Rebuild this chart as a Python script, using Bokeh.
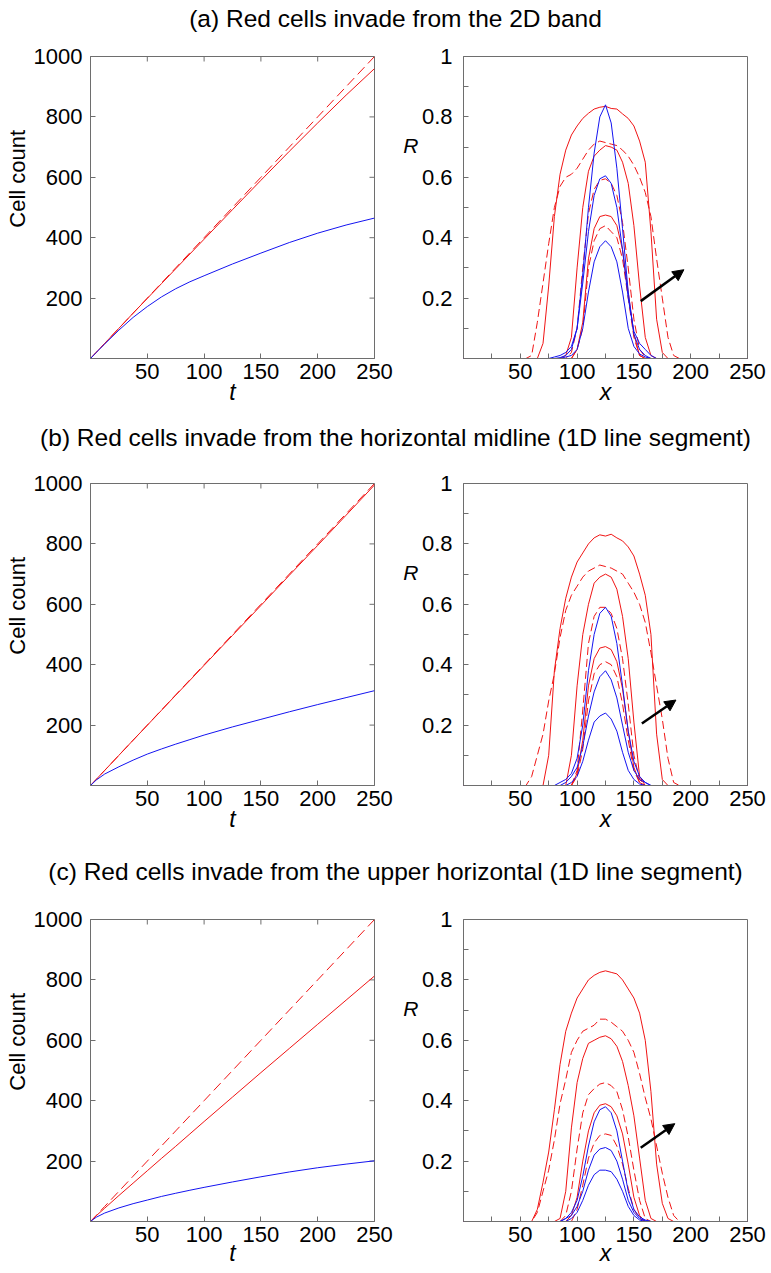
import math
from bokeh.plotting import figure
from bokeh.layouts import column, row
from bokeh.models import (Range1d, FixedTicker, LinearAxis, Arrow,
                          NormalHead, CustomJSTickFormatter)
from bokeh.embed import file_html
from bokeh.resources import INLINE
from bokeh.core.properties import value

FONT = "Liberation Sans"
RED = "#f01414"
BLUE = "#1414f0"
FRAME = "#6e6e6e"

TITLES = [
    "(a) Red cells invade from the 2D band",
    "(b) Red cells invade from the horizontal midline (1D line segment)",
    "(c) Red cells invade from the upper horizontal (1D line segment)",
]

# ---------------- left panels: cell count vs t ----------------
T = [0, 5, 12.5, 25, 37.5, 50, 62.5, 75, 87.5, 100, 125, 150, 175, 200, 225, 250]
T_TICKS = [50, 100, 150, 200, 250]
COUNT_TICKS = [200, 400, 600, 800, 1000]

a_red_dashed = [0, 20, 50, 100, 150, 200, 250, 300, 350, 400, 500, 600, 700, 800, 900, 1000]
a_red_solid = [0, 20, 50, 100, 150, 199, 248, 297, 346, 395, 493, 590, 686, 780, 872, 960]
a_blue = [0, 20, 48, 94, 136, 172, 204, 231, 254, 274, 313, 349, 384, 415, 442, 465]

b_red_dashed = [0, 20, 50, 100, 150, 200, 250, 300, 350, 400, 500, 600, 700, 800, 900, 1000]
b_red_solid = [0, 20, 50, 100, 150, 199.5, 249, 299, 348, 398, 497, 596, 696, 795, 895, 995]
b_blue = [0, 18, 38, 62, 84, 104, 121, 137, 152, 167, 194, 219, 244, 268, 291, 314]

c_red_dashed = [0, 20, 50, 100, 150, 200, 250, 300, 350, 400, 500, 600, 700, 800, 900, 1000]
c_red_solid = [0, 19, 44, 86, 127, 168, 209, 249, 290, 331, 412, 493, 573, 653, 733, 813]
c_blue = [0, 14, 28, 45, 59, 71, 83, 93.5, 103.5, 113, 131, 148, 164, 178, 190, 201]

# ---------------- right panels: R profiles vs x ----------------
X = [0, 55, 60, 65, 70, 75, 80, 85, 90, 95, 100, 105, 110, 115, 120, 125,
     130, 135, 140, 145, 150, 155, 160, 165, 170, 175, 180, 185, 190, 195, 250]
X_TICKS = [50, 100, 150, 200, 250]
X_MINOR = [25, 75, 125, 175, 225]
R_TICKS = [0.2, 0.4, 0.6, 0.8, 1.0]
R_MINOR = [0.1, 0.3, 0.5, 0.7, 0.9]

a_R_solid = [
    [0, 0, 0, 0, 0.05, 0.24, 0.47, 0.61, 0.69, 0.74, 0.77, 0.795, 0.812, 0.826, 0.832, 0.835,
     0.828, 0.826, 0.81, 0.795, 0.77, 0.72, 0.65, 0.42, 0.13, 0.02, 0, 0, 0, 0, 0],
    [0, 0, 0, 0, 0, 0, 0, 0, 0.01, 0.07, 0.30, 0.50, 0.62, 0.67, 0.69, 0.705,
     0.70, 0.69, 0.65, 0.58, 0.44, 0.24, 0.07, 0.01, 0, 0, 0, 0, 0, 0, 0],
    [0, 0, 0, 0, 0, 0, 0, 0, 0, 0, 0.03, 0.12, 0.33, 0.43, 0.47, 0.475,
     0.47, 0.44, 0.36, 0.22, 0.08, 0.01, 0, 0, 0, 0, 0, 0, 0, 0, 0],
]
a_R_dashed = [
    [0, 0, 0.01, 0.12, 0.25, 0.38, 0.50, 0.57, 0.60, 0.61, 0.63, 0.66, 0.69, 0.71, 0.72, 0.715,
     0.71, 0.705, 0.69, 0.67, 0.64, 0.60, 0.55, 0.47, 0.33, 0.20, 0.07, 0.01, 0, 0, 0],
    [0, 0, 0, 0, 0, 0, 0, 0, 0, 0.02, 0.10, 0.30, 0.48, 0.56, 0.59, 0.595,
     0.58, 0.54, 0.45, 0.30, 0.13, 0.03, 0.005, 0, 0, 0, 0, 0, 0, 0, 0],
    [0, 0, 0, 0, 0, 0, 0, 0, 0, 0, 0.03, 0.10, 0.30, 0.39, 0.43, 0.44,
     0.42, 0.40, 0.33, 0.20, 0.07, 0.01, 0, 0, 0, 0, 0, 0, 0, 0, 0],
]
a_R_blue = [
    [0, 0, 0, 0, 0, 0, 0, 0.003, 0.01, 0.03, 0.10, 0.28, 0.50, 0.68, 0.80, 0.84,
     0.78, 0.63, 0.43, 0.22, 0.08, 0.03, 0.01, 0, 0, 0, 0, 0, 0, 0, 0],
    [0, 0, 0, 0, 0, 0, 0.005, 0.01, 0.02, 0.04, 0.10, 0.25, 0.42, 0.54, 0.595, 0.605,
     0.58, 0.50, 0.36, 0.20, 0.09, 0.05, 0.03, 0.01, 0, 0, 0, 0, 0, 0, 0],
    [0, 0, 0, 0, 0, 0, 0, 0, 0.005, 0.01, 0.03, 0.10, 0.22, 0.32, 0.37, 0.39,
     0.37, 0.32, 0.22, 0.10, 0.04, 0.015, 0.005, 0, 0, 0, 0, 0, 0, 0, 0],
]

b_R_solid = [
    [0, 0, 0, 0, 0, 0.10, 0.38, 0.52, 0.62, 0.69, 0.74, 0.77, 0.80, 0.82, 0.83, 0.826,
     0.832, 0.82, 0.81, 0.79, 0.76, 0.70, 0.63, 0.50, 0.17, 0.02, 0, 0, 0, 0, 0],
    [0, 0, 0, 0, 0, 0, 0, 0, 0, 0.10, 0.33, 0.50, 0.60, 0.67, 0.69, 0.70,
     0.69, 0.65, 0.56, 0.42, 0.21, 0.03, 0, 0, 0, 0, 0, 0, 0, 0, 0],
    [0, 0, 0, 0, 0, 0, 0, 0, 0, 0, 0.04, 0.15, 0.33, 0.42, 0.455, 0.46,
     0.45, 0.41, 0.32, 0.18, 0.06, 0.01, 0, 0, 0, 0, 0, 0, 0, 0, 0],
]
b_R_dashed = [
    [0, 0, 0.03, 0.10, 0.17, 0.28, 0.37, 0.49, 0.58, 0.63, 0.66, 0.69, 0.71, 0.72, 0.73, 0.725,
     0.72, 0.71, 0.70, 0.67, 0.64, 0.60, 0.54, 0.44, 0.33, 0.22, 0.09, 0.01, 0, 0, 0],
    [0, 0, 0, 0, 0, 0, 0, 0, 0, 0, 0.05, 0.25, 0.47, 0.56, 0.59, 0.59,
     0.57, 0.52, 0.42, 0.27, 0.10, 0.02, 0, 0, 0, 0, 0, 0, 0, 0, 0],
    [0, 0, 0, 0, 0, 0, 0, 0, 0, 0, 0.03, 0.12, 0.28, 0.37, 0.40, 0.41,
     0.40, 0.36, 0.27, 0.15, 0.05, 0.01, 0, 0, 0, 0, 0, 0, 0, 0, 0],
]
b_R_blue = [
    [0, 0, 0, 0, 0, 0, 0, 0.01, 0.02, 0.04, 0.09, 0.20, 0.38, 0.50, 0.57, 0.59,
     0.56, 0.47, 0.33, 0.18, 0.08, 0.03, 0.01, 0, 0, 0, 0, 0, 0, 0, 0],
    [0, 0, 0, 0, 0, 0, 0, 0, 0.01, 0.03, 0.06, 0.13, 0.23, 0.31, 0.36, 0.38,
     0.35, 0.29, 0.20, 0.11, 0.05, 0.02, 0.01, 0, 0, 0, 0, 0, 0, 0, 0],
    [0, 0, 0, 0, 0, 0, 0, 0, 0, 0.01, 0.03, 0.08, 0.15, 0.21, 0.23, 0.24,
     0.22, 0.18, 0.11, 0.05, 0.02, 0.005, 0, 0, 0, 0, 0, 0, 0, 0, 0],
]

c_R_solid = [
    [0, 0, 0, 0.04, 0.13, 0.23, 0.37, 0.52, 0.63, 0.69, 0.74, 0.77, 0.80, 0.815, 0.825, 0.83,
     0.825, 0.82, 0.80, 0.77, 0.74, 0.69, 0.60, 0.43, 0.19, 0.06, 0.01, 0, 0, 0, 0],
    [0, 0, 0, 0, 0, 0, 0, 0.01, 0.10, 0.31, 0.46, 0.54, 0.59, 0.60, 0.61, 0.615,
     0.605, 0.58, 0.53, 0.45, 0.35, 0.21, 0.07, 0.01, 0, 0, 0, 0, 0, 0, 0],
    [0, 0, 0, 0, 0, 0, 0, 0, 0, 0.02, 0.08, 0.20, 0.30, 0.36, 0.385, 0.39,
     0.38, 0.35, 0.29, 0.19, 0.08, 0.02, 0, 0, 0, 0, 0, 0, 0, 0, 0],
]
c_R_dashed = [
    [0, 0, 0, 0.03, 0.10, 0.17, 0.27, 0.39, 0.47, 0.56, 0.60, 0.63, 0.64, 0.65, 0.67, 0.67,
     0.66, 0.645, 0.63, 0.60, 0.56, 0.49, 0.41, 0.34, 0.25, 0.16, 0.08, 0.02, 0, 0, 0],
    [0, 0, 0, 0, 0, 0, 0, 0, 0.02, 0.10, 0.24, 0.36, 0.42, 0.44, 0.455, 0.46,
     0.45, 0.43, 0.37, 0.28, 0.17, 0.07, 0.01, 0, 0, 0, 0, 0, 0, 0, 0],
    [0, 0, 0, 0, 0, 0, 0, 0, 0, 0, 0.04, 0.12, 0.21, 0.26, 0.285, 0.29,
     0.285, 0.25, 0.19, 0.11, 0.04, 0.01, 0, 0, 0, 0, 0, 0, 0, 0, 0],
]
c_R_blue = [
    [0, 0, 0, 0, 0, 0, 0, 0, 0.01, 0.03, 0.07, 0.15, 0.25, 0.33, 0.37, 0.38,
     0.36, 0.30, 0.20, 0.10, 0.04, 0.015, 0.005, 0, 0, 0, 0, 0, 0, 0, 0],
    [0, 0, 0, 0, 0, 0, 0, 0, 0.01, 0.02, 0.05, 0.10, 0.17, 0.22, 0.24, 0.245,
     0.235, 0.20, 0.14, 0.07, 0.03, 0.01, 0.003, 0, 0, 0, 0, 0, 0, 0, 0],
    [0, 0, 0, 0, 0, 0, 0, 0, 0, 0.01, 0.03, 0.07, 0.12, 0.155, 0.17, 0.17,
     0.165, 0.14, 0.10, 0.05, 0.02, 0.005, 0, 0, 0, 0, 0, 0, 0, 0, 0],
]

# arrows (start x, start R, end x, end R)
ARROWS = [(156, 0.19, 194, 0.294), (157, 0.205, 187, 0.283), (156, 0.244, 186, 0.324)]

# position of the rotated "Cell count" label and the "R" label along their axes
CELL_LABEL_AT = [595]
R_LABEL_AT = [0.705]

for grp in (a_R_solid, a_R_dashed, a_R_blue, b_R_solid, b_R_dashed, b_R_blue,
            c_R_solid, c_R_dashed, c_R_blue):
    for s in grp:
        assert len(s) == len(X), len(s)
for s in (a_red_dashed, a_red_solid, a_blue, b_red_dashed, b_red_solid, b_blue,
          c_red_dashed, c_red_solid, c_blue):
    assert len(s) == len(T), len(s)

FRAME_W, FRAME_H = 284, 302
TICK_FS = "22px"


def style_axis(ax, minor=False):
    ax.axis_line_color = FRAME
    ax.major_tick_line_color = FRAME
    ax.major_tick_in = 5
    ax.major_tick_out = 0
    ax.minor_tick_line_color = FRAME if minor else None
    ax.minor_tick_in = 5
    ax.minor_tick_out = 0
    ax.major_label_text_font = FONT
    ax.major_label_text_font_size = TICK_FS
    ax.major_label_text_color = "black"


def text_axis(p, ticks, text, side, size, orientation="horizontal", style="normal", standoff=0):
    ax = LinearAxis(ticker=FixedTicker(ticks=ticks),
                    formatter=CustomJSTickFormatter(code="return %r;" % text))
    ax.axis_line_color = None
    ax.major_tick_line_color = None
    ax.minor_tick_line_color = None
    ax.major_tick_in = 0
    ax.major_tick_out = 0
    ax.major_label_standoff = standoff
    ax.major_label_orientation = orientation
    ax.major_label_text_font = FONT
    ax.major_label_text_font_size = size
    ax.major_label_text_font_style = style
    ax.major_label_text_color = "black"
    p.add_layout(ax, side)


def x_label(p, text, standoff):
    p.xaxis.axis_label = text
    p.xaxis.axis_label_text_font = FONT
    p.xaxis.axis_label_text_font_size = "23px"
    p.xaxis.axis_label_text_font_style = "italic"
    p.xaxis.axis_label_text_color = "black"
    p.xaxis.axis_label_standoff = standoff


def title_fig(text, h):
    p = figure(frame_width=770, frame_height=h, x_range=Range1d(0, 770), y_range=Range1d(0, h),
               x_axis_type=None, y_axis_type=None, min_border=0, toolbar_location=None,
               output_backend="svg")
    p.outline_line_color = None
    p.xgrid.visible = False
    p.ygrid.visible = False
    p.text(x=[395], y=[h / 2], text=[text], text_align="center", text_baseline="middle",
           text_font=value(FONT), text_font_size="24.5px", text_color="black")
    return p


def left_fig(red_dashed, red_solid, blue, top, bottom, lab_off):
    p = figure(frame_width=FRAME_W, frame_height=FRAME_H, x_range=Range1d(0, 250),
               y_range=Range1d(0, 1000), min_border_left=90, min_border_right=23,
               min_border_top=top, min_border_bottom=bottom, toolbar_location=None,
               output_backend="svg")
    p.xgrid.visible = False
    p.ygrid.visible = False
    p.outline_line_color = FRAME
    p.xaxis.ticker = FixedTicker(ticks=T_TICKS)
    p.yaxis.ticker = FixedTicker(ticks=COUNT_TICKS)
    style_axis(p.xaxis[0])
    style_axis(p.yaxis[0])
    p.xaxis.major_label_standoff = 5
    p.yaxis.major_label_standoff = 8
    x_label(p, "t", lab_off)
    text_axis(p, CELL_LABEL_AT, "Cell count", "left", "22px", orientation="vertical", standoff=0)
    # mirrored inward ticks on the top and right edges (outer halves clipped by the frame)
    top_y = p.y_range.end
    right_x = p.x_range.end
    p.scatter(T_TICKS[:-1], [top_y] * (len(T_TICKS) - 1), marker="dash", angle=math.pi / 2,
              size=10, line_color=FRAME, line_width=1)
    p.scatter([right_x] * (len(COUNT_TICKS) - 1), COUNT_TICKS[:-1], marker="dash",
              size=10, line_color=FRAME, line_width=1)
    p.line(T, red_dashed, line_color=RED, line_width=1, line_dash="10 5")
    p.line(T, red_solid, line_color=RED, line_width=1)
    p.line(T, blue, line_color=BLUE, line_width=1)
    return p


def right_fig(solids, dasheds, blues, arrow, top, bottom, lab_off):
    p = figure(frame_width=FRAME_W, frame_height=FRAME_H, x_range=Range1d(0, 250),
               y_range=Range1d(0, 1), min_border_left=66, min_border_right=23,
               min_border_top=top, min_border_bottom=bottom, toolbar_location=None,
               output_backend="svg")
    p.xgrid.visible = False
    p.ygrid.visible = False
    p.outline_line_color = FRAME
    p.xaxis.ticker = FixedTicker(ticks=X_TICKS, minor_ticks=X_MINOR)
    p.yaxis.ticker = FixedTicker(ticks=R_TICKS, minor_ticks=R_MINOR)
    p.yaxis.formatter = CustomJSTickFormatter(
        code="return Math.abs(tick - 1) < 1e-9 ? '1' : tick.toFixed(1);")
    style_axis(p.xaxis[0], minor=True)
    style_axis(p.yaxis[0], minor=True)
    p.xaxis.major_label_standoff = 5
    p.yaxis.major_label_standoff = 11
    x_label(p, "x", lab_off)
    text_axis(p, R_LABEL_AT, "R", "left", "21px", style="italic", standoff=0)
    for s in solids:
        p.line(X, s, line_color=RED, line_width=1)
    for s in dasheds:
        p.line(X, s, line_color=RED, line_width=1, line_dash="8 4")
    for s in blues:
        p.line(X, s, line_color=BLUE, line_width=1)
    x0, y0, x1, y1 = arrow
    p.add_layout(Arrow(x_start=x0, y_start=y0, x_end=x1, y_end=y1, line_color="black",
                       line_width=2.5,
                       end=NormalHead(size=11, fill_color="black", line_color="black")))
    return p


layout = column(
    title_fig(TITLES[0], 36),
    row(left_fig(a_red_dashed, a_red_solid, a_blue, 20, 62, -3),
        right_fig(a_R_solid, a_R_dashed, a_R_blue, ARROWS[0], 20, 62, -3)),
    title_fig(TITLES[1], 34),
    row(left_fig(b_red_dashed, b_red_solid, b_blue, 29, 69, -3),
        right_fig(b_R_solid, b_R_dashed, b_R_blue, ARROWS[1], 29, 69, -3)),
    title_fig(TITLES[2], 34),
    row(left_fig(c_red_dashed, c_red_solid, c_blue, 31, 51, -5),
        right_fig(c_R_solid, c_R_dashed, c_R_blue, ARROWS[2], 31, 51, -5)),
)

with open("out.html", "w") as f:
    f.write(file_html(layout, INLINE))
